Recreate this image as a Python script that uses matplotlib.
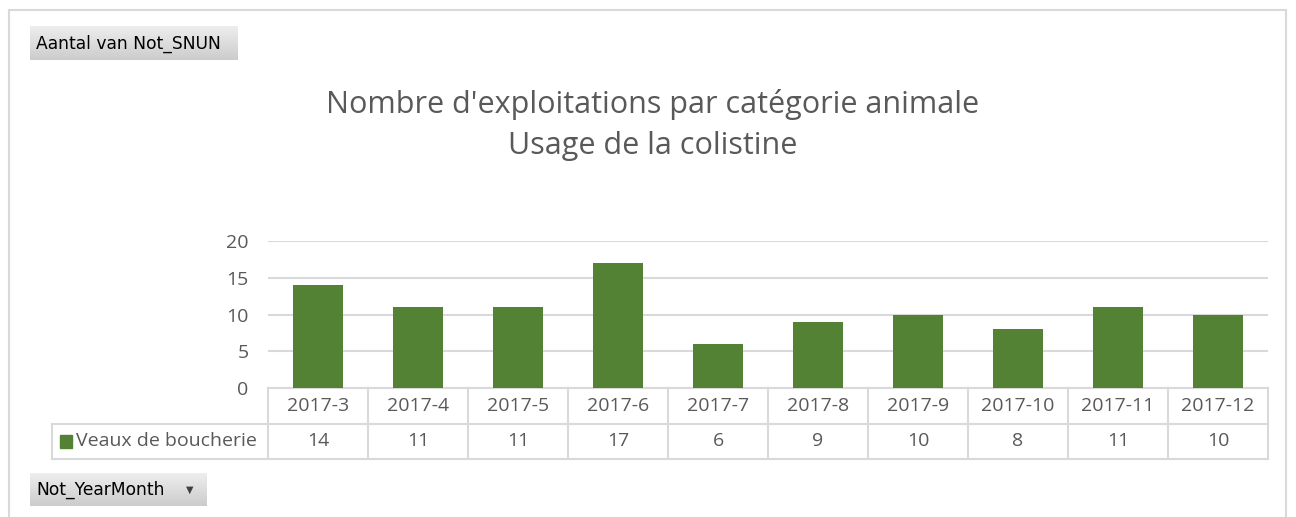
import numpy as np
import matplotlib.pyplot as plt
from matplotlib.patches import Rectangle
from matplotlib.transforms import blended_transform_factory

# data
months = ["2017-3", "2017-4", "2017-5", "2017-6", "2017-7",
          "2017-8", "2017-9", "2017-10", "2017-11", "2017-12"]
veaux = [14, 11, 11, 17, 6, 9, 10, 8, 11, 10]
series_name = "Veaux de boucherie"
title_lines = ["Nombre d'exploitations par catégorie animale", "Usage de la colistine"]
y_ticks = [0, 5, 10, 15, 20]

GREEN = "#548235"
TXT = "#595959"
GRID = "#d9d9d9"
W, H = 1296, 517

plt.rcParams['font.family'] = ['Open Sans', 'DejaVu Sans']

fig = plt.figure(figsize=(W / 100, H / 100), dpi=100)


def fx(px):
    return px / W


def fy(py):
    return 1 - py / H


# outer frame
fig.patches.append(Rectangle((fx(9), fy(530)), fx(1286 - 9), (530 - 10) / H,
                             transform=fig.transFigure, fill=False, edgecolor=GRID, lw=1.5))

# title
fig.text(fx(653), fy(104), title_lines[0], ha="center", va="center", fontsize=22, color=TXT)
fig.text(fx(653), fy(146), title_lines[1], ha="center", va="center", fontsize=22, color=TXT)

# main axes
ax = fig.add_axes([fx(268), fy(388), fx(1000), (388 - 241) / H])
x = np.arange(len(months))
ax.bar(x, veaux, width=0.5, color=GREEN, zorder=3)
ax.set_xlim(-0.5, len(months) - 0.5)
ax.set_ylim(0, 20)
ax.set_yticks(y_ticks)
ax.set_xticks([])
ax.grid(axis="y", color=GRID, lw=1.5, zorder=0)
for s in ax.spines.values():
    s.set_visible(False)
ax.tick_params(axis="y", length=0, pad=14, labelsize=14, labelcolor=TXT)

# data table under the chart
tr = blended_transform_factory(ax.transData, ax.transAxes)
row_h = 35.5 / 147
top = 0
mid = -row_h
bot = -2 * row_h
label_left = -2.66
kw = dict(transform=tr, clip_on=False, color=GRID, lw=1.5, zorder=1)
ax.plot([-0.5, len(months) - 0.5], [top, top], **kw)
ax.plot([label_left, len(months) - 0.5], [mid, mid], **kw)
ax.plot([label_left, len(months) - 0.5], [bot, bot], **kw)
ax.plot([label_left, label_left], [mid, bot], **kw)
for b in np.arange(len(months) + 1) - 0.5:
    ax.plot([b, b], [top, bot], **kw)
for i, (m, v) in enumerate(zip(months, veaux)):
    ax.text(i, (top + mid) / 2, m, transform=tr, ha="center", va="center",
            fontsize=14, color=TXT)
    ax.text(i, (mid + bot) / 2, str(v), transform=tr, ha="center", va="center",
            fontsize=14, color=TXT)
ax.add_patch(Rectangle((-2.58, (mid + bot) / 2 - 0.045), 0.12, 0.09, transform=tr,
                       color=GREEN, clip_on=False))
ax.text(-2.42, (mid + bot) / 2, series_name, transform=tr, ha="left", va="center",
        fontsize=14, color=TXT)


# pivot field buttons
def button(x0, y0, x1, y1, label, arrow=False):
    bax = fig.add_axes([fx(x0), fy(y1), fx(x1 - x0), (y1 - y0) / H])
    grad = np.linspace(0.93, 0.80, 50).reshape(-1, 1)
    bax.imshow(grad, cmap="gray", vmin=0, vmax=1, aspect="auto", extent=[0, 1, 0, 1])
    bax.set_xlim(0, 1)
    bax.set_ylim(0, 1)
    bax.axis("off")
    bax.text(6 / (x1 - x0), 0.48, label, ha="left", va="center", fontsize=12.3,
             color="black", family=["DejaVu Sans"])
    if arrow:
        bax.text(1 - 17 / (x1 - x0), 0.5, "▼", ha="center", va="center", fontsize=7,
                 color="#404040", family=["DejaVu Sans"])


button(30, 26, 238, 60, "Aantal van Not_SNUN")
button(30, 473, 207, 506, "Not_YearMonth", arrow=True)

fig.savefig("out.png", dpi=100)
